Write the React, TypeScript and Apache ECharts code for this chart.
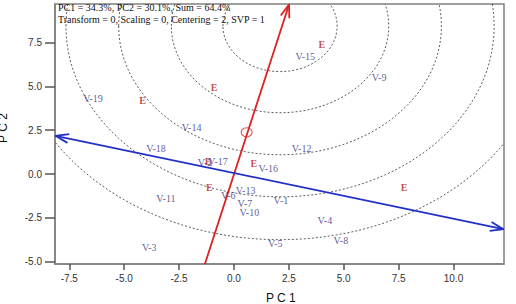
import { useEffect, useRef } from 'react';
import * as echarts from 'echarts';

// Variable labels (blue) and their PC1/PC2 positions
const varLabels = ['V-1', 'V-2', 'V-3', 'V-4', 'V-5', 'V-6', 'V-7', 'V-8', 'V-9', 'V-10', 'V-11', 'V-12', 'V-13', 'V-14', 'V-15', 'V-16', 'V-17', 'V-18', 'V-19'];
const varX = [2.14, -1.32, -3.86, 4.14, 1.88, -0.26, 0.5, 4.87, 6.61, 0.7, -3.1, 3.08, 0.53, -1.93, 3.25, 1.56, -0.73, -3.55, -6.42];
const varY = [-1.49, 0.63, -4.21, -2.63, -3.96, -1.2, -1.71, -3.81, 5.53, -2.19, -1.39, 1.43, -0.95, 2.65, 6.7, 0.29, 0.69, 1.43, 4.29];

// Object markers (red "E")
const objLabel = 'E';
const objX = [-4.16, -0.91, -1.18, 0.91, -1.12, 7.75, 4.0];
const objY = [4.19, 4.93, 0.69, 0.61, -0.78, -0.76, 7.41];

// Dashed contour circles
const contourCenter = [2.1, 8.45];
const contourRadii = [2.6, 4.95, 7.35, 9.75, 12.2];

// Biplot axes: [x1, y1, x2, y2]
const redAxis = [-1.39, -5.4, 2.51, 9.68];
const blueAxis = [-8.12, 2.18, 12.27, -3.15];
const markerEllipse = [0.58, 2.38];

// Axes
const xMin = -8.15;
const xMax = 12.3;
const yMin = -5.14;
const yMax = 9.71;
const xTicks = [-7.5, -5, -2.5, 0, 2.5, 5, 7.5, 10];
const yTicks = [-5, -2.5, 0, 2.5, 5, 7.5];

const headerLines = ['PC1 = 34.3%, PC2 = 30.1%, Sum = 64.4%', 'Transform = 0, Scaling = 0, Centering = 2, SVP = 1'];
const xName = 'P C 1';
const yName = 'P C 2';

function clipRect(params: any) {
  const cs = params.coordSys;
  return { type: 'rect', shape: { x: cs.x, y: cs.y, width: cs.width, height: cs.height } };
}

function arrowSeries(vals: number[], color: string, heads: [boolean, boolean]) {
  return {
    type: 'custom',
    silent: true,
    z: 5,
    data: [vals],
    renderItem: (params: any, api: any) => {
      const p1 = api.coord([api.value(0), api.value(1)]);
      const p2 = api.coord([api.value(2), api.value(3)]);
      const children: any[] = [
        { type: 'line', shape: { x1: p1[0], y1: p1[1], x2: p2[0], y2: p2[1] }, style: { stroke: color, lineWidth: 1.8 } },
      ];
      const head = (tip: number[], from: number[]) => {
        const dx = tip[0] - from[0];
        const dy = tip[1] - from[1];
        const len = Math.hypot(dx, dy);
        const ux = dx / len;
        const uy = dy / len;
        const L = 13;
        const W = 4.5;
        const bx = tip[0] - ux * L;
        const by = tip[1] - uy * L;
        return {
          type: 'polyline',
          shape: { points: [[bx - uy * W, by + ux * W], [tip[0], tip[1]], [bx + uy * W, by - ux * W]] },
          style: { stroke: color, lineWidth: 1.8, fill: null },
        };
      };
      if (heads[0]) children.push(head(p1, p2));
      if (heads[1]) children.push(head(p2, p1));
      return { type: 'group', children, clipPath: clipRect(params) };
    },
  };
}

export default function App() {
  const ref = useRef<HTMLDivElement>(null);
  useEffect(() => {
    document.body.style.margin = '0';
    const chart = echarts.init(ref.current!, undefined, { renderer: 'svg' });
    const labelFont = 'Liberation Sans';
    const serif = 'Liberation Serif';
    chart.setOption({
      animation: false,
      backgroundColor: '#fff',
      grid: { left: 55, top: 4, right: 12, bottom: 40, show: true, borderColor: '#808080', borderWidth: 1.5, backgroundColor: '#fff' },
      xAxis: {
        type: 'value',
        min: xMin,
        max: xMax,
        splitLine: { show: false },
        axisLine: { show: true, onZero: false, lineStyle: { color: '#808080', width: 1.5 } },
        axisTick: { show: true, length: 6, customValues: xTicks, lineStyle: { color: '#555', width: 1.5 } },
        axisLabel: { customValues: xTicks, formatter: (v: number) => v.toFixed(1), fontSize: 10, color: '#333', fontFamily: labelFont, margin: 9 },
      },
      yAxis: {
        type: 'value',
        min: yMin,
        max: yMax,
        splitLine: { show: false },
        axisLine: { show: true, onZero: false, lineStyle: { color: '#808080', width: 1.5 } },
        axisTick: { show: true, length: 10, customValues: yTicks, lineStyle: { color: '#555', width: 1.5 } },
        axisLabel: { customValues: yTicks, formatter: (v: number) => v.toFixed(1), fontSize: 10, color: '#333', fontFamily: labelFont, margin: 13 },
      },
      graphic: [
        { type: 'text', left: 58, top: 2, z: 100, style: { text: headerLines[0], fontFamily: serif, fontSize: 10, fill: '#111' } },
        { type: 'text', left: 58, top: 14, z: 100, style: { text: headerLines[1], fontFamily: serif, fontSize: 10, fill: '#111' } },
        { type: 'text', left: 266, top: 292, z: 100, style: { text: xName, fontFamily: labelFont, fontSize: 12, fill: '#111' } },
        { type: 'text', x: 3, y: 128, rotation: Math.PI / 2, z: 100, style: { text: yName, fontFamily: labelFont, fontSize: 12, fill: '#111', align: 'center', verticalAlign: 'middle' } },
      ],
      series: [
        {
          type: 'custom',
          silent: true,
          z: 1,
          data: contourRadii.map((r) => [contourCenter[0], contourCenter[1], r]),
          renderItem: (params: any, api: any) => {
            const c = api.coord([api.value(0), api.value(1)]);
            const r = api.value(2);
            const rx = api.size([r, 0])[0];
            const ry = api.size([0, r])[1];
            return {
              type: 'group',
              clipPath: clipRect(params),
              children: [
                { type: 'ellipse', shape: { cx: c[0], cy: c[1], rx, ry }, style: { fill: null, stroke: '#333', lineWidth: 0.8, lineDash: [2, 2] } },
              ],
            };
          },
        },
        arrowSeries(redAxis, '#dd2020', [false, true]),
        arrowSeries(blueAxis, '#2030c8', [true, true]),
        {
          type: 'scatter',
          silent: true,
          z: 6,
          data: [markerEllipse],
          symbol: 'circle',
          symbolSize: [11, 9],
          itemStyle: { color: 'rgba(0,0,0,0)', borderColor: '#d03030', borderWidth: 1 },
        },
        {
          type: 'scatter',
          silent: true,
          z: 7,
          symbolSize: 1,
          itemStyle: { color: 'rgba(0,0,0,0)' },
          data: varX.map((x, i) => ({ value: [x, varY[i]], name: varLabels[i] })),
          label: { show: true, position: 'inside', formatter: '{b}', color: '#2f2f80', fontFamily: serif, fontSize: 10 },
        },
        {
          type: 'scatter',
          silent: true,
          z: 8,
          symbolSize: 1,
          itemStyle: { color: 'rgba(0,0,0,0)' },
          data: objX.map((x, i) => ({ value: [x, objY[i]], name: objLabel })),
          label: { show: true, position: 'inside', formatter: '{b}', color: '#b01e1e', fontFamily: serif, fontSize: 10, fontWeight: 'bold' },
        },
      ],
    });
    return () => chart.dispose();
  }, []);
  return <div ref={ref} style={{ width: 516, height: 304 }} />;
}
